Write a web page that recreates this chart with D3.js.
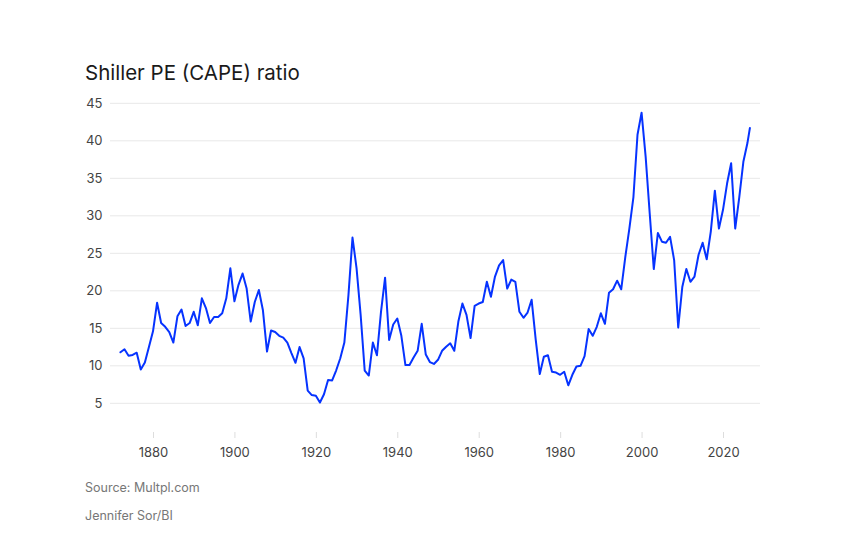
<!DOCTYPE html>
<html>
<head>
<meta charset="utf-8">
<script src="https://cdn.jsdelivr.net/npm/d3@7"></script>
<style>
  html, body { margin: 0; padding: 0; background: #fff; }
  svg { display: block; font-family: Inter, "Noto Sans", sans-serif; }
</style>
</head>
<body>
<svg id="chart" width="845" height="550"></svg>
<script>
const title = "Shiller PE (CAPE) ratio";
const sourceText = "Source: Multpl.com";
const creditText = "Jennifer Sor/BI";

const years = [];
for (let y = 1872; y <= 2026; y++) years.push(y);
years.push(2026.6);

const cape = [
  11.8, 12.2, 11.35, 11.45, 11.75, 9.5, 10.45, 12.5, 14.6,            // 1872-1880
  18.4, 15.7, 15.2, 14.5, 13.1, 16.6, 17.5, 15.3, 15.7, 17.2,        // 1881-1890
  15.4, 19.0, 17.7, 15.7, 16.5, 16.5, 17.0, 19.0, 23.0, 18.6,        // 1891-1900
  20.8, 22.3, 20.3, 15.9, 18.5, 20.1, 17.4, 11.9, 14.7, 14.5,        // 1901-1910
  14.0, 13.75, 13.1, 11.7, 10.4, 12.5, 11.0, 6.7, 6.1, 6.0,          // 1911-1920
  5.1, 6.2, 8.1, 8.05, 9.4, 11.0, 13.1, 19.4, 27.1, 23.0,            // 1921-1930
  16.8, 9.35, 8.7, 13.1, 11.4, 17.2, 21.75, 13.45, 15.5, 16.3,       // 1931-1940
  14.0, 10.1, 10.1, 11.1, 12.0, 15.6, 11.5, 10.5, 10.25, 10.8,       // 1941-1950
  12.0, 12.55, 13.0, 12.0, 15.9, 18.3, 16.8, 13.7, 18.0, 18.3,       // 1951-1960
  18.5, 21.2, 19.2, 21.9, 23.4, 24.1, 20.3, 21.5, 21.2, 17.2,        // 1961-1970
  16.4, 17.1, 18.8, 13.5, 8.9, 11.2, 11.4, 9.2, 9.1, 8.8,            // 1971-1980
  9.2, 7.4, 8.8, 9.9, 10.0, 11.3, 14.9, 14.0, 15.2, 17.0,            // 1981-1990
  15.6, 19.75, 20.2, 21.35, 20.2, 24.5, 28.3, 32.5, 40.8, 43.75,     // 1991-2000
  37.9, 30.3, 22.9, 27.7, 26.55, 26.4, 27.2, 24.1, 15.1, 20.5,       // 2001-2010
  22.9, 21.2, 21.9, 24.8, 26.4, 24.2, 27.9, 33.35, 28.3, 30.8,       // 2011-2020
  34.3, 37.0, 28.3, 32.5, 37.2, 39.7,                                // 2021-2026
  41.7                                                              // latest
];

const yTicks = [5, 10, 15, 20, 25, 30, 35, 40, 45];
const xTicks = [1880, 1900, 1920, 1940, 1960, 1980, 2000, 2020];

const data = years.map((yr, i) => ({ year: yr, value: cape[i] }));

const svg = d3.select("#chart");
const x = d3.scaleLinear().domain([1880, 2020]).range([153, 723]);
const y = d3.scaleLinear().domain([5, 45]).range([403.3, 103.3]);
const gridLeft = 110, gridRight = 760;

// Title
svg.append("text")
  .attr("x", 85).attr("y", 80)
  .attr("fill", "#1a1a1a")
  .attr("font-size", 20.5)
  .text(title);

// Y gridlines + labels
const yg = svg.append("g");
yg.selectAll("line").data(yTicks).join("line")
  .attr("x1", gridLeft).attr("x2", gridRight)
  .attr("y1", d => y(d)).attr("y2", d => y(d))
  .attr("stroke", "#e8e8e8").attr("stroke-width", 1);
yg.selectAll("text").data(yTicks).join("text")
  .attr("x", 102.5).attr("y", d => y(d))
  .attr("dy", "0.36em")
  .attr("text-anchor", "end")
  .attr("fill", "#444")
  .attr("font-size", 13)
  .text(d => d);

// X axis via d3.axisBottom
const xAxis = d3.axisBottom(x).tickValues(xTicks).tickFormat(d3.format("d")).tickSize(6).tickPadding(10);
const xg = svg.append("g").attr("transform", "translate(0,432)").call(xAxis);
xg.select(".domain").remove();
xg.selectAll(".tick line").attr("stroke", "#dddddd");
xg.selectAll(".tick text").attr("fill", "#444").attr("font-size", 13)
  .attr("font-family", "Inter, 'Noto Sans', sans-serif");

// Line
const line = d3.line().x(d => x(d.year)).y(d => y(d.value));
svg.append("path")
  .datum(data)
  .attr("d", line)
  .attr("fill", "none")
  .attr("stroke", "#0633ff")
  .attr("stroke-width", 2)
  .attr("stroke-linejoin", "round")
  .attr("stroke-linecap", "round");

// Footer
svg.append("text")
  .attr("x", 85).attr("y", 492)
  .attr("fill", "#777").attr("font-size", 12.5)
  .text(sourceText);
svg.append("text")
  .attr("x", 85).attr("y", 520)
  .attr("fill", "#777").attr("font-size", 12.5)
  .text(creditText);
</script>
</body>
</html>
